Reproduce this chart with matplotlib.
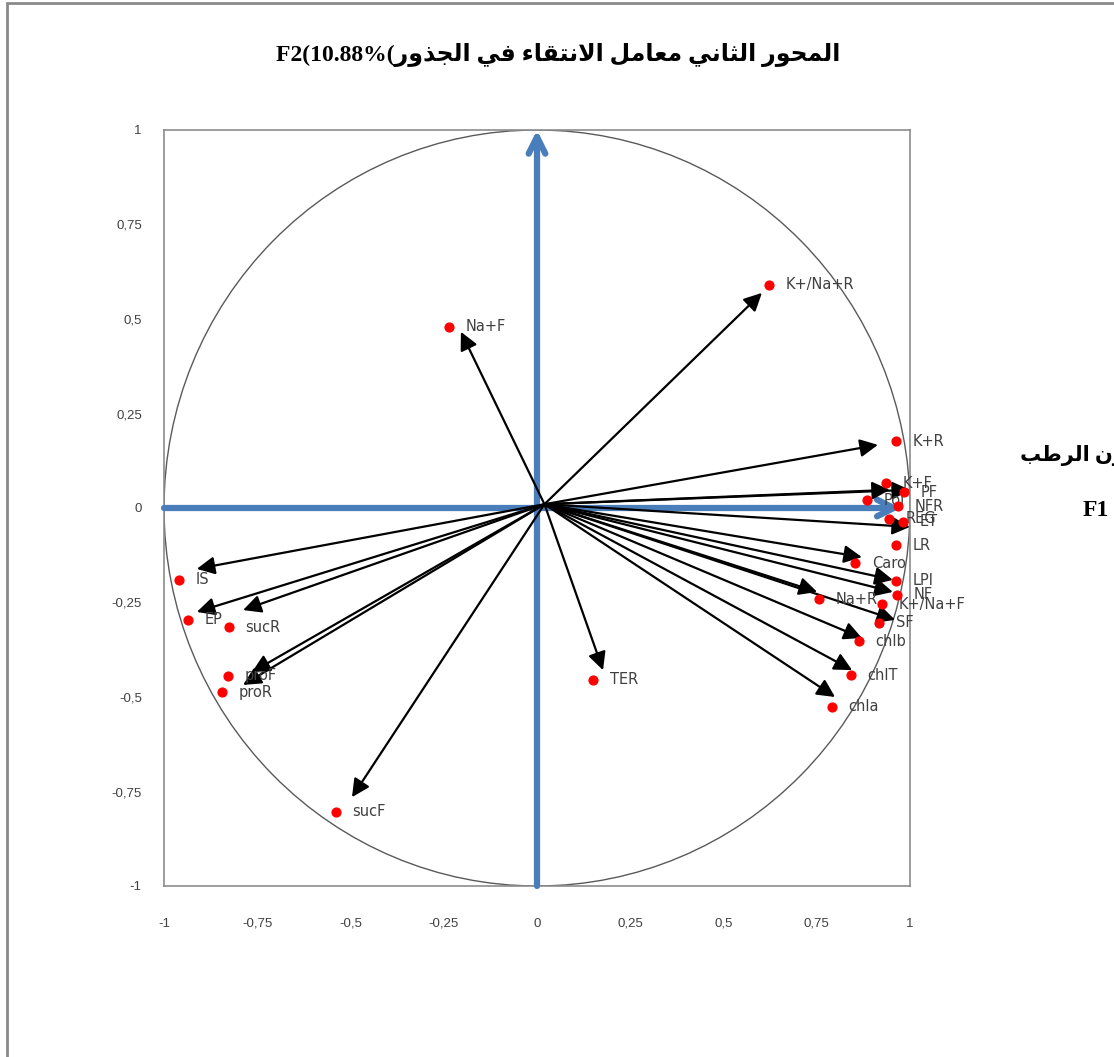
import matplotlib
matplotlib.use("Agg")
import matplotlib.pyplot as plt
from matplotlib.patches import Circle, Rectangle

# variable names and coordinates on F1 / F2
labels = ["K+/Na+R", "Na+F", "K+R", "K+F", "Pol", "PF", "NFR", "REG", "ET", "LR",
          "Caro", "LPI", "NF", "Na+R", "K+/Na+F", "SF", "chlb", "chlT", "chla",
          "TER", "sucF", "IS", "EP", "sucR", "proF", "proR"]
f1 = [0.622, -0.236, 0.962, 0.936, 0.885, 0.984, 0.968, 0.944, 0.981, 0.962,
      0.853, 0.962, 0.965, 0.756, 0.925, 0.917, 0.863, 0.842, 0.791,
      0.150, -0.539, -0.960, -0.936, -0.826, -0.828, -0.845]
f2 = [0.590, 0.479, 0.177, 0.066, 0.021, 0.042, 0.005, -0.029, -0.037, -0.098,
      -0.146, -0.193, -0.230, -0.241, -0.254, -0.304, -0.352, -0.442, -0.526,
      -0.455, -0.804, -0.190, -0.296, -0.315, -0.444, -0.487]

# hand drawn arrow tips (they do not sit exactly on the points)
tip_x = [0.603, -0.204, 0.914, 0.946, 1.000, 1.000, 1.005, 0.871, 0.954, 0.954,
         0.751, 0.960, 0.871, 0.845, 0.799, 0.177, -0.496, -0.912, -0.912,
         -0.788, -0.764, -0.788]
tip_y = [0.569, 0.466, 0.167, 0.048, 0.048, -0.050, -0.101, -0.130, -0.190, -0.222,
         -0.222, -0.296, -0.344, -0.429, -0.500, -0.429, -0.765, -0.161, -0.275,
         -0.270, -0.434, -0.468]
arrow_origin = (0.02, 0.01)

ticks = [-1, -0.75, -0.5, -0.25, 0, 0.25, 0.5, 0.75, 1]
tick_text = ["-1", "-0,75", "-0,5", "-0,25", "0", "0,25", "0,5", "0,75", "1"]

title_ar = "المحور الثاني معامل الانتقاء في الجذور"
title_num = "F2(10.88%("
side_ar = "الوزن الرطب"

# minimal arabic shaping (matplotlib has no shaping / bidi)
FORMS = {
    "ا": (0xFE8D, 0xFE8E, None, None), "ب": (0xFE8F, 0xFE90, 0xFE91, 0xFE92),
    "ت": (0xFE95, 0xFE96, 0xFE97, 0xFE98), "ث": (0xFE99, 0xFE9A, 0xFE9B, 0xFE9C),
    "ج": (0xFE9D, 0xFE9E, 0xFE9F, 0xFEA0), "ح": (0xFEA1, 0xFEA2, 0xFEA3, 0xFEA4),
    "ذ": (0xFEAB, 0xFEAC, None, None), "ر": (0xFEAD, 0xFEAE, None, None),
    "ز": (0xFEAF, 0xFEB0, None, None), "ط": (0xFEC1, 0xFEC2, 0xFEC3, 0xFEC4),
    "ع": (0xFEC9, 0xFECA, 0xFECB, 0xFECC), "ف": (0xFED1, 0xFED2, 0xFED3, 0xFED4),
    "ق": (0xFED5, 0xFED6, 0xFED7, 0xFED8), "ل": (0xFEDD, 0xFEDE, 0xFEDF, 0xFEE0),
    "م": (0xFEE1, 0xFEE2, 0xFEE3, 0xFEE4), "ن": (0xFEE5, 0xFEE6, 0xFEE7, 0xFEE8),
    "و": (0xFEED, 0xFEEE, None, None), "ي": (0xFEF1, 0xFEF2, 0xFEF3, 0xFEF4),
    "ء": (0xFE80, None, None, None),
}


def dual(c):
    return c in FORMS and FORMS[c][2] is not None


def shape(text):
    out = []
    chars = list(text)
    i = 0
    while i < len(chars):
        c = chars[i]
        if c not in FORMS:
            out.append(c)
            i += 1
            continue
        prev_j = i > 0 and dual(chars[i - 1])
        if c == "ل" and i + 1 < len(chars) and chars[i + 1] == "ا":
            out.append(chr(0xFEFC if prev_j else 0xFEFB))
            i += 2
            continue
        next_j = dual(c) and i + 1 < len(chars) and chars[i + 1] in FORMS and FORMS[chars[i + 1]][1] is not None
        iso, fin, ini, med = FORMS[c]
        if prev_j and next_j:
            g = med
        elif prev_j:
            g = fin if fin else iso
        elif next_j:
            g = ini
        else:
            g = iso
        out.append(chr(g))
        i += 1
    return "".join(out)[::-1]


W, H = 1114, 1057
fig = plt.figure(figsize=(W / 100, H / 100), dpi=100)
ax = fig.add_axes([164 / W, 171 / H, 746 / W, 756 / H])

ax.set_xlim(-1, 1)
ax.set_ylim(-1, 1)
for s in ax.spines.values():
    s.set_color("#8c8c8c")
    s.set_linewidth(1.2)

ax.add_patch(Circle((0, 0), 1, fill=False, color="#5a5a5a", lw=1))

# blue axes arrows
blue = "#4a7ebb"
ax.annotate("", xy=(0, 1), xytext=(0, -1),
            arrowprops=dict(arrowstyle="->", color=blue, lw=4.5, mutation_scale=30,
                            shrinkA=0, shrinkB=0))
ax.annotate("", xy=(0.975, 0), xytext=(-1, 0),
            arrowprops=dict(arrowstyle="->", color=blue, lw=4.5, mutation_scale=30,
                            shrinkA=0, shrinkB=0))

for x, y in zip(tip_x, tip_y):
    ax.annotate("", xy=(x, y), xytext=arrow_origin,
                arrowprops=dict(arrowstyle="-|>", color="black", lw=1.6,
                                mutation_scale=27, shrinkA=0, shrinkB=0))

ax.scatter(f1, f2, s=40, color="red", zorder=5)
for lab, x, y in zip(labels, f1, f2):
    ax.annotate(lab, (x, y), xytext=(12, 0), textcoords="offset points",
                va="center", ha="left", fontsize=10.5, color="#404040",
                family="DejaVu Sans")

ax.set_xticks(ticks)
ax.set_xticklabels(tick_text)
ax.set_yticks(ticks)
ax.set_yticklabels(tick_text)
ax.tick_params(length=0, labelsize=9.5, labelcolor="#404040")
ax.tick_params(axis="x", pad=23)
ax.tick_params(axis="y", pad=16)
for t in ax.get_xticklabels() + ax.get_yticklabels():
    t.set_family("Liberation Sans")

fam = ["Liberation Serif", "DejaVu Sans"]
fig.text(558 / W, 1 - 55 / H, title_num + shape(title_ar), ha="center", va="center",
         fontsize=17, fontweight="bold", family=fam)
fig.text(1020 / W, 1 - 455 / H, shape(side_ar), ha="left", va="center",
         fontsize=15, fontweight="bold", family=fam)
fig.text(1083 / W, 1 - 510 / H, "F1", ha="left", va="center",
         fontsize=17, fontweight="bold", family=fam)

# outer frame of the original (cropped on right / bottom)
fig.patches.append(Rectangle((7 / W, -0.1), 1.2, 1.1 - 3 / H, transform=fig.transFigure,
                             fill=False, edgecolor="#8a8a8a", lw=2))

fig.savefig("out.png", dpi=100)
